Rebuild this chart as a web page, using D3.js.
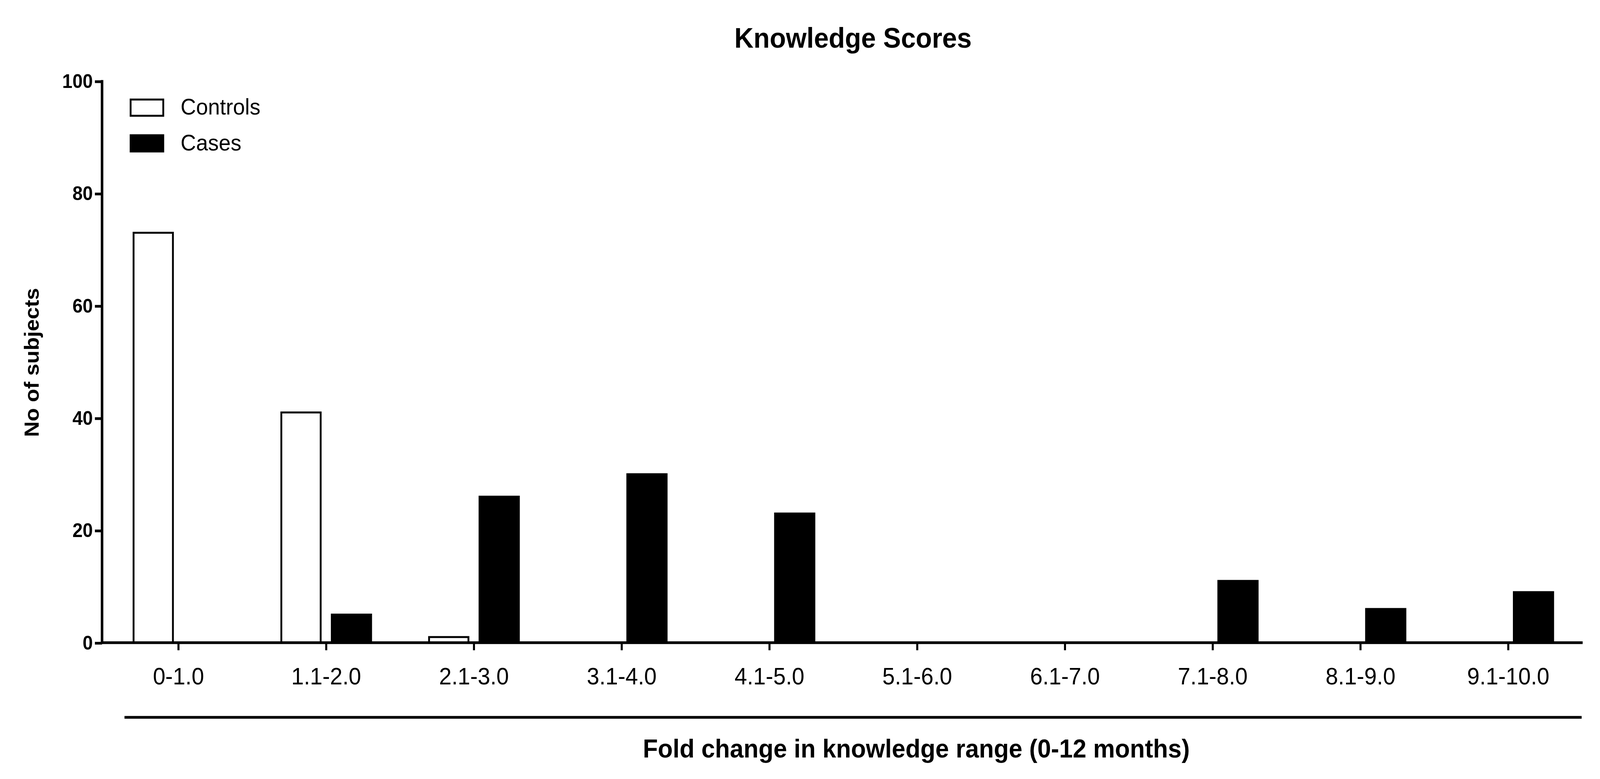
<!DOCTYPE html><html><head><script src="https://cdn.jsdelivr.net/npm/d3@7"></script>
<style>html,body{margin:0;padding:0;background:#fff;overflow:hidden}svg{display:block;width:100vw;height:100vh}</style></head><body><svg id="c" viewBox="0 0 1568 720" preserveAspectRatio="none"></svg>
<script>
const categories=["0-1.0","1.1-2.0","2.1-3.0","3.1-4.0","4.1-5.0","5.1-6.0","6.1-7.0","7.1-8.0","8.1-9.0","9.1-10.0"];
const controls=[73,41,1,0,0,0,0,0,0,0];
const cases=[0,5,26,30,23,0,0,11,6,9];
const series=["Controls","Cases"];
const yTicks=[0,20,40,60,80,100];
const svg=d3.select("#c"),F="'Liberation Sans',Arial,sans-serif";
const x=d3.scaleBand().domain(categories).range([102.5,1550.5]);
const xs=d3.scaleBand().domain(series).range([-44,44]).paddingInner(0.22);
const y=d3.scaleLinear().domain([0,100]).range([594,75]);
const data=[controls,cases];
series.forEach((s,i)=>{
  svg.append("g").selectAll("rect").data(data[i]).join("rect")
   .attr("x",(d,j)=>x(categories[j])+x.bandwidth()/2+xs(s)).attr("width",xs.bandwidth())
   .attr("y",d=>y(d)).attr("height",d=>y(0)-y(d))
   .attr("fill",i?"#000":"#fff").attr("stroke","#000").attr("stroke-width",d=>d>0?1.8:0);
});
const ya=svg.append("g").attr("transform","translate(100,0)").call(d3.axisLeft(y).tickValues(yTicks).tickSize(7).tickPadding(2));
ya.select(".domain").attr("stroke-width",2.5).attr("d","M0,74V594");
ya.selectAll("line").attr("stroke-width",2.5);
ya.selectAll("text").attr("font-family",F).attr("font-weight","bold").attr("font-size",18);
const xa=svg.append("g").attr("transform","translate(0,594)").call(d3.axisBottom(x).tickSize(7).tickPadding(16));
xa.select(".domain").attr("stroke-width",2.5).attr("d","M99,0H1551");
xa.selectAll("line").attr("stroke-width",2);
xa.selectAll("text").attr("font-family",F).attr("font-size",22);
svg.append("line").attr("x1",122).attr("x2",1550).attr("y1",663).attr("y2",663).attr("stroke","#000").attr("stroke-width",2.5);
svg.append("text").attr("x",898).attr("y",700).attr("text-anchor","middle").attr("font-family",F).attr("font-weight","bold").attr("font-size",24).text("Fold change in knowledge range (0-12 months)");
svg.append("text").attr("x",836).attr("y",44).attr("text-anchor","middle").attr("font-family",F).attr("font-weight","bold").attr("font-size",26).text("Knowledge Scores");
svg.append("text").attr("transform","translate(38,335) rotate(-90)").attr("text-anchor","middle").attr("font-family",F).attr("font-weight","bold").attr("font-size",20).text("No of subjects");
series.forEach((s,i)=>{
  const yy=92+i*33;
  svg.append("rect").attr("x",128).attr("y",yy).attr("width",32).attr("height",15).attr("fill",i?"#000":"#fff").attr("stroke","#000").attr("stroke-width",1.8);
  svg.append("text").attr("x",177).attr("y",yy+14).attr("font-family",F).attr("font-size",21).text(s);
});
</script></body></html>
